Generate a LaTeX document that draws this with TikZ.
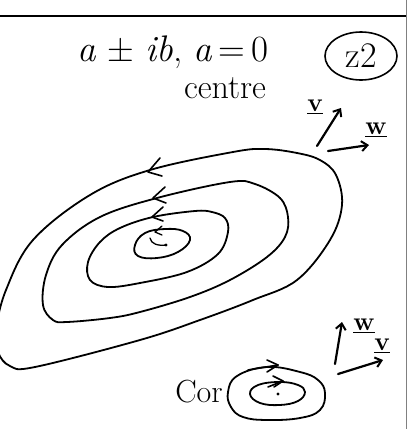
\documentclass[tikz,border=0pt]{standalone}
\usepackage{fontspec}
\usetikzlibrary{arrows.meta,shapes.geometric}
\begin{document}
\begin{tikzpicture}[x=1pt,y=-1pt,
  orbit/.style={line width=1.8pt, line join=round, line cap=round},
  barb/.style={line width=1.6pt, line cap=round, line join=round},
  vec/.style={line width=2.2pt, line cap=round, -{Straight Barb[length=6pt,width=10pt,line width=2pt]}},
  lab/.style={font=\fontsize{26}{28}\selectfont\bfseries, inner sep=0pt}]
\useasboundingbox (0,0) rectangle (410,429);
\clip (0,0) rectangle (410,429);
\fill[white] (0,0) rectangle (410,429);
% frame lines
\draw[line width=1.5pt] (0,16) -- (407,16);
\draw[gray, line width=0.8pt] (406,0) -- (406,429);
% texts
\node[font=\fontsize{37}{39}\selectfont, inner sep=0pt] (eq) at (173,52) {\textit{a} ± \textit{ib}, \textit{a}\,=\,0};
\node[ellipse, draw, line width=1.6pt, minimum width=72pt, minimum height=48pt, inner sep=0pt, font=\fontsize{36}{38}\selectfont] (pg) at (361,56) {z2};
\node[font=\fontsize{34}{36}\selectfont, inner sep=0pt] (centre) at (225,88) {centre};
\node[font=\fontsize{32}{34}\selectfont, inner sep=0pt] (cor) at (199,392) {Cor};
% big orbits
\draw[orbit] plot[smooth cycle, tension=0.6] coordinates {(342,205) (336,175) (320,160) (297,153) (265,149) (233,152) (150,170) (90,195) (33,240) (6,290) (-4,330) (-2,352) (10,366) (35,367) (140,340) (200,320) (253,300) (297,280) (330,240)};
\draw[orbit] plot[smooth cycle, tension=0.6] coordinates {(288,217) (280,198) (255,184) (230,182) (157,198) (100,217) (62,245) (46,275) (43,305) (53,320) (67,322) (110,318) (140,312) (190,297) (230,280) (267,257) (285,237)};
\draw[orbit] plot[smooth cycle, tension=0.6] coordinates {(228,232) (225,218) (212,212) (195,211) (153,217) (120,228) (100,242) (88,262) (90,280) (108,287) (140,283) (187,272) (218,254)};
\draw[orbit] plot[smooth cycle, tension=0.7] coordinates {(190,240) (183,231) (165,229) (145,233) (135,245) (138,256) (157,258) (178,252)};
% orbit arrowheads
\draw[barb] (160,158) -- (148,172) -- (162,176);
\draw[barb] (165,187) -- (153,198) -- (166,203);
\draw[barb] (163,207) -- (152,217) -- (163,221);
\draw[barb, line width=1.3pt] (162,226) -- (155,232) -- (162,235);
\draw[barb, line width=1.3pt] (150,238) .. controls (151,244) and (158,246) .. (166,245);
\fill (166,245) circle (1.6pt);
% top-right vectors
\coordinate (v1s) at (317,146);
\coordinate (v1e) at (341,108);
\draw[vec] (v1s) -- (v1e);
\node[lab] (v1) at (315,107) {\underline{v}};
\coordinate (w1s) at (328,151);
\coordinate (w1e) at (369,145);
\draw[vec] (w1s) -- (w1e);
\node[lab] (w1) at (376,130) {\underline{w}};
% bottom orbits
\draw[orbit] plot[smooth cycle, tension=0.7] coordinates {(228,392) (237,376) (267,367) (300,372) (318,380) (325,393) (320,410) (300,418) (267,420) (243,417) (231,407)};
\draw[orbit] plot[smooth cycle, tension=0.7] coordinates {(250,394) (258,385) (280,382) (298,385) (305,392) (298,401) (280,405) (260,403)};
\fill (278,394) circle (1.6pt);
\draw[barb] (248,370) -- (278,365);
\draw[barb] (267,360) -- (278,365) -- (267,372);
\draw[barb] (268,387) -- (283,381);
\draw[barb] (273,376) -- (283,381) -- (274,387);
% bottom-right vectors
\coordinate (w2s) at (335,364);
\coordinate (w2e) at (342,322);
\draw[vec] (w2s) -- (w2e);
\node[lab] (w2) at (364,326) {\underline{w}};
\coordinate (v2s) at (338,374);
\coordinate (v2e) at (383,360);
\draw[vec] (v2s) -- (v2e);
\node[lab] (v2) at (382,346) {\underline{v}};
\end{tikzpicture}
\end{document}
